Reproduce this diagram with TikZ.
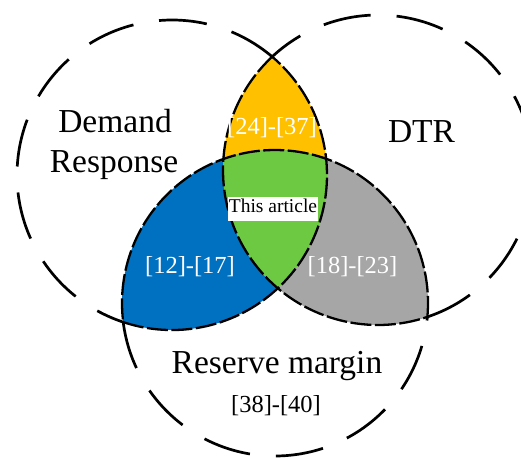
\documentclass[tikz,border=0pt]{standalone}
\usepackage{fontspec}
\setmainfont{Liberation Serif}
\definecolor{ovOrange}{HTML}{FFC000}
\definecolor{ovBlue}{HTML}{0070C0}
\definecolor{ovGray}{HTML}{A6A6A6}
\definecolor{ovGreen}{HTML}{6DC942}
\begin{document}
\begin{tikzpicture}[x=1pt,y=1pt,
  outerarc/.style={line width=2.7pt, dash pattern=on 48pt off 26pt},
  innerarc/.style={line width=2.3pt, dash pattern=on 21pt off 3.5pt},
  biglabel/.style={font=\fontsize{33.5}{40}\selectfont, anchor=base},
  reflabel/.style={font=\fontsize{24.5}{28}\selectfont, anchor=base},
]
\useasboundingbox (0,0) rectangle (521,458);
% circle centres: Demand Response (L), DTR (R), Reserve margin (B)
\coordinate (Lc) at (172,283);
\coordinate (Rc) at (378,288);
\coordinate (Bc) at (275,155);

% pairwise overlaps, then the triple overlap on top
\begin{scope}
  \clip (Lc) circle[radius=155];
  \fill[ovOrange] (Rc) circle[radius=155];
\end{scope}
\begin{scope}
  \clip (Lc) circle[radius=155];
  \fill[ovBlue] (Bc) circle[radius=153];
\end{scope}
\begin{scope}
  \clip (Rc) circle[radius=155];
  \fill[ovGray] (Bc) circle[radius=153];
\end{scope}
\begin{scope}
  \clip (Lc) circle[radius=155];
  \clip (Rc) circle[radius=155];
  \fill[ovGreen] (Bc) circle[radius=153];
\end{scope}

% outer arcs (long dashes) and inner arcs (short dashes)
\draw[outerarc] (Lc) ++(49.7:155) arc[start angle=49.7, end angle=251.65, radius=155];
\draw[innerarc] (Lc) ++(-108.35:155) arc[start angle=-108.35, end angle=49.7, radius=155];
\draw[outerarc] (Rc) ++(-71.4:155) arc[start angle=-71.4, end angle=133, radius=155];
\draw[innerarc] (Rc) ++(133:155) arc[start angle=133, end angle=288.6, radius=155];
\draw[outerarc] (Bc) ++(187.17:153) arc[start angle=187.17, end angle=354.8, radius=153];
\draw[innerarc] (Bc) ++(-5.2:153) arc[start angle=-5.2, end angle=187.17, radius=153];

% labels
\node[biglabel] (dem) at (115,325) {Demand};
\node[biglabel] (resp) at (114,285) {Response};
\node[biglabel] (dtr) at (421.5,315) {DTR};
\node[biglabel] (rm) at (277,85) {Reserve margin};
\node[reflabel] (r3840) at (276,46) {[38]-[40]};
\node[reflabel, text=white] (r2437) at (272,323) {[24]-[37]};
\node[reflabel, text=white] (r1217) at (190,185) {[12]-[17]};
\node[reflabel, text=white] (r1823) at (352.5,185) {[18]-[23]};
\node[fill=white, anchor=base, inner xsep=1pt, inner ysep=2.5pt,
      text height=13pt, text depth=6pt,
      font=\fontsize{19.5}{22}\selectfont] (art) at (273,245) {This article};
\end{tikzpicture}
\end{document}
